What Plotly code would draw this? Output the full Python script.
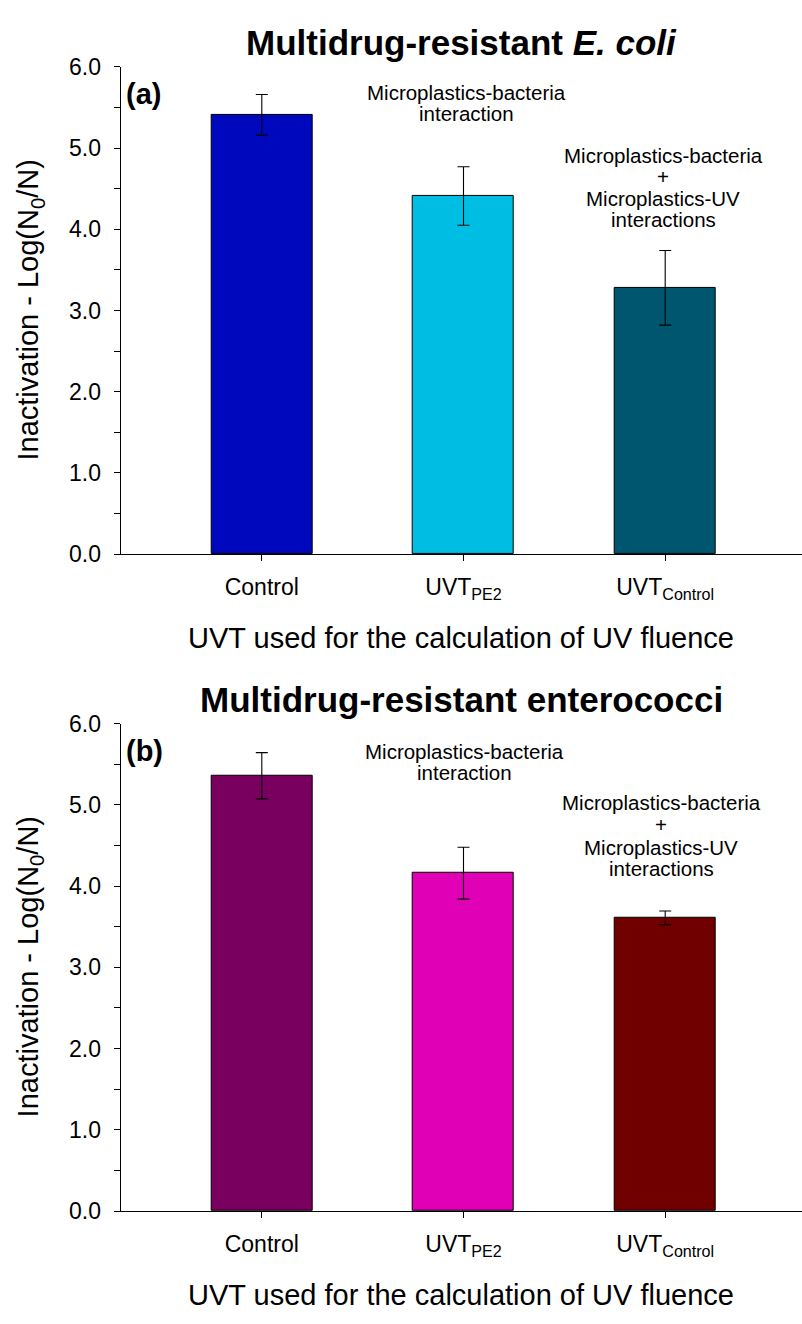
import plotly.graph_objects as go

W, H = 802, 1324

categories = ["Control", "UVT_PE2", "UVT_Control"]
tick_labels = ["Control", "UVT<sub>PE2</sub>", "UVT<sub>Control</sub>"]

ecoli_values = [5.41, 4.41, 3.28]
ecoli_errors = [0.25, 0.36, 0.46]
ecoli_colors = ["#0008BE", "#00BDE3", "#00566E"]

entero_values = [5.36, 4.16, 3.61]
entero_errors = [0.285, 0.32, 0.085]
entero_colors = ["#7A0060", "#E000B6", "#700000"]

panel_titles = ["Multidrug-resistant <i>E. coli</i>", "Multidrug-resistant enterococci"]
panel_letters = ["(a)", "(b)"]
y_title = "Inactivation - Log(N<sub>0</sub>/N)"
x_title = "UVT used for the calculation of UV fluence"
ann1_lines = ["Microplastics-bacteria", "interaction"]
ann2_lines = ["Microplastics-bacteria", "+", "Microplastics-UV", "interactions"]

FONT = "Liberation Sans, Arial, sans-serif"

def px(x):
    return x / W

def py(y):
    return 1 - y / H

xpos = list(range(len(categories)))
x_left_px, x_right_px = 120.7, 802.0
c0_px, step_px = 261.8, 201.7
xr = [(x_left_px - c0_px) / step_px, (x_right_px - c0_px) / step_px]

panels = [
    dict(vals=ecoli_values, errs=ecoli_errors, cols=ecoli_colors, top=55, bot=552,
         title_y=30, xt_y=638, letter_y=83,
         a1=[(466, 81), (466, 103)], a2=[(663, 145), (663, 167), (663, 189), (663, 211)]),
    dict(vals=entero_values, errs=entero_errors, cols=entero_colors, top=725, bot=1222,
         title_y=700, xt_y=1308, letter_y=753,
         a1=[(464, 753), (464, 775)], a2=[(661, 805), (661, 828), (661, 851), (661, 873)]),
]

fig = go.Figure()
layout = dict(width=W, height=H, margin=dict(l=0, r=0, t=0, b=0),
              paper_bgcolor="white", plot_bgcolor="white", showlegend=False,
              font=dict(family=FONT, color="black"), bargap=0)
annotations = []

for i, p in enumerate(panels):
    n = i + 1
    xa = "x" if n == 1 else f"x{n}"
    ya = "y" if n == 1 else f"y{n}"
    fig.add_trace(go.Bar(
        x=xpos, y=p["vals"], width=0.5, xaxis=xa, yaxis=ya,
        marker=dict(color=p["cols"], line=dict(color="black", width=1)),
        error_y=dict(type="data", array=p["errs"], visible=True,
                     color="black", thickness=1.1, width=6),
        hoverinfo="skip"))
    dom = [py(p["bot"]), py(p["top"])]
    xkey = "xaxis" if n == 1 else f"xaxis{n}"
    ykey = "yaxis" if n == 1 else f"yaxis{n}"
    layout[xkey] = dict(domain=[px(x_left_px), 1.0], anchor=ya, range=xr,
                        tickvals=xpos, ticktext=tick_labels, ticks="outside",
                        ticklen=6, tickwidth=1, tickcolor="black",
                        showline=True, linecolor="black", linewidth=1.2,
                        showgrid=False, zeroline=False,
                        tickfont=dict(size=23, family=FONT), ticklabelstandoff=6)
    layout[ykey] = dict(domain=dom, anchor=xa, range=[0, 6], dtick=1,
                        tickformat=".1f", ticks="outside", ticklen=6,
                        tickwidth=1, tickcolor="black",
                        minor=dict(dtick=0.5, ticks="outside", ticklen=6,
                                   tickcolor="black", tickwidth=1),
                        showline=True, linecolor="black", linewidth=1.2,
                        showgrid=False, zeroline=False,
                        tickfont=dict(size=23, family=FONT), ticklabelstandoff=8)
    # mirrored frame with inside ticks
    m = n + 2
    layout[f"xaxis{m}"] = dict(overlaying=xa, anchor=ya, side="top", range=xr,
                               tickvals=xpos, ticks="inside", ticklen=6,
                               tickcolor="black", showticklabels=False,
                               showline=True, linecolor="black", linewidth=1.2,
                               showgrid=False, zeroline=False)
    layout[f"yaxis{m}"] = dict(overlaying=ya, anchor=xa, side="right", range=[0, 6],
                               dtick=0.5, ticks="inside", ticklen=6,
                               tickcolor="black", showticklabels=False,
                               showline=True, linecolor="black", linewidth=1.2,
                               showgrid=False, zeroline=False)

    annotations.append(dict(text=f"<b>{panel_titles[i]}</b>", x=px(461), y=py(p["title_y"]),
                            xref="paper", yref="paper", showarrow=False,
                            xanchor="center", yanchor="middle",
                            font=dict(size=35, family=FONT)))
    annotations.append(dict(text=f"<b>{panel_letters[i]}</b>", x=px(124), y=py(p["letter_y"]),
                            xref="paper", yref="paper", showarrow=False,
                            xanchor="left", yanchor="middle",
                            font=dict(size=29, family=FONT)))
    annotations.append(dict(text=x_title, x=px(461), y=py(p["xt_y"]),
                            xref="paper", yref="paper", showarrow=False,
                            xanchor="center", yanchor="middle",
                            font=dict(size=29, family=FONT)))
    annotations.append(dict(text=y_title, x=px(30), y=py((p["top"] + p["bot"]) / 2),
                            xref="paper", yref="paper", showarrow=False, textangle=-90,
                            xanchor="center", yanchor="middle",
                            font=dict(size=29, family=FONT)))
    for (ax_, ay_), t in zip(p["a1"], ann1_lines):
        annotations.append(dict(text=t, x=px(ax_), y=py(ay_), xref="paper", yref="paper",
                                showarrow=False, xanchor="center", yanchor="middle",
                                font=dict(size=20.5, family=FONT)))
    for (ax_, ay_), t in zip(p["a2"], ann2_lines):
        annotations.append(dict(text=t, x=px(ax_), y=py(ay_), xref="paper", yref="paper",
                                showarrow=False, xanchor="center", yanchor="middle",
                                font=dict(size=20.5, family=FONT)))

layout["annotations"] = annotations
fig.update_layout(**layout)
fig.write_html("out.html")
